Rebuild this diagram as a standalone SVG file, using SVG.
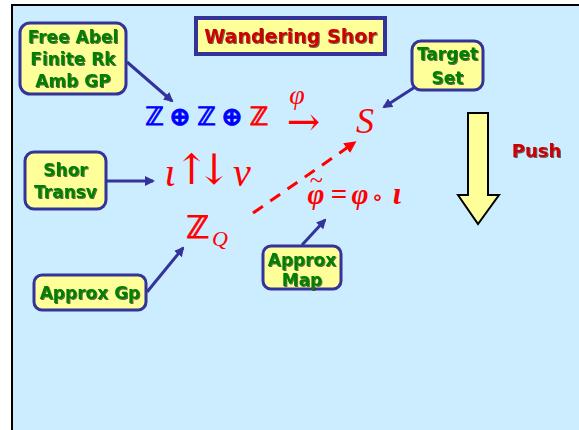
<svg xmlns="http://www.w3.org/2000/svg" width="579" height="430" viewBox="0 0 579 430">
<defs>
<style>
.box{fill:#FFFF99;stroke:#333399;stroke-width:3}
.lbl{font-family:"DejaVu Sans",sans-serif;font-weight:bold;font-size:17px;fill:#008000;text-anchor:middle;filter:url(#sh)}
.conn{stroke:#333399;stroke-width:3;fill:none;marker-end:url(#ah)}
.m{font-family:"DejaVu Sans",sans-serif;text-anchor:middle;stroke-width:0.9}
.it{font-family:"Liberation Serif",serif;font-style:italic;text-anchor:middle;fill:#FF0000}
.ar{font-family:"Liberation Serif",serif;text-anchor:middle;fill:#FF0000}
.ds{font-family:"DejaVu Serif",serif;text-anchor:middle;fill:#FF0000}
</style>
<filter id="sh" x="-10%" y="-10%" width="130%" height="140%">
<feDropShadow dx="1" dy="1" stdDeviation="0.4" flood-color="#222" flood-opacity="0.7"/>
</filter>
<marker id="ah" markerWidth="10" markerHeight="10" refX="8" refY="5" orient="auto" markerUnits="userSpaceOnUse" viewBox="0 0 10 10">
<path d="M0,0 L10,5 L0,10 Z" fill="#333399"/>
</marker>
<marker id="rh" markerWidth="12" markerHeight="12" refX="9" refY="6" orient="auto" markerUnits="userSpaceOnUse" viewBox="0 0 12 12">
<path d="M0,0 L12,6 L0,12 Z" fill="#FF0000"/>
</marker>
</defs>
<rect x="0" y="0" width="579" height="430" fill="#FFFFFF"/>
<rect x="12" y="5" width="570" height="430" fill="#CCECFF" stroke="#000" stroke-width="2"/>

<g id="title">
<rect x="196" y="18" width="189" height="36" fill="#FFFF99" stroke="#333399" stroke-width="4"/>
<text x="290.5" y="43" font-family="DejaVu Sans,sans-serif" font-weight="bold" font-size="19" fill="#CC0000" text-anchor="middle" filter="url(#sh)">Wandering Shor</text>
</g>

<g id="connectors">
<line class="conn" x1="127" y1="62" x2="172" y2="101"/>
<line class="conn" x1="415" y1="87" x2="384" y2="107"/>
<line class="conn" x1="107" y1="181" x2="153" y2="181"/>
<line class="conn" x1="147" y1="292" x2="183" y2="248"/>
<line class="conn" x1="302" y1="245" x2="325" y2="220"/>
<line x1="253" y1="213" x2="354" y2="143" stroke="#FF0000" stroke-width="3" stroke-dasharray="12,9" marker-end="url(#rh)"/>
</g>

<g id="freeabel">
<rect class="box" x="20" y="23" width="106" height="71" rx="10"/>
<text class="lbl" x="73" y="43">Free Abel</text>
<text class="lbl" x="73" y="65">Finite Rk</text>
<text class="lbl" x="73" y="87">Amb GP</text>
</g>

<g id="target">
<rect class="box" x="412" y="41" width="71" height="49" rx="9"/>
<text class="lbl" x="447.5" y="60">Target</text>
<text class="lbl" x="447.5" y="84">Set</text>
</g>

<g id="shor">
<rect class="box" x="25" y="152" width="81" height="57" rx="9"/>
<text class="lbl" x="65.5" y="176">Shor</text>
<text class="lbl" x="65.5" y="198">Transv</text>
</g>

<g id="approxgp">
<rect class="box" x="34" y="275" width="112" height="35" rx="8"/>
<text class="lbl" x="90" y="299" font-size="16">Approx Gp</text>
</g>

<g id="approxmap">
<rect class="box" x="263" y="246" width="78" height="43" rx="8"/>
<text class="lbl" x="302" y="266">Approx</text>
<text class="lbl" x="302" y="286">Map</text>
</g>

<g id="zsum" class="m" font-size="25">
<text x="154.5" y="125" fill="#0000FF" stroke="#0000FF">ℤ</text>
<text x="180" y="125" fill="#0000FF" stroke="#0000FF" font-weight="bold">⊕</text>
<text x="206.5" y="125" fill="#0000FF" stroke="#0000FF">ℤ</text>
<text x="232" y="125" fill="#0000FF" stroke="#0000FF" font-weight="bold">⊕</text>
<text x="259" y="125" fill="#FF0000" stroke="#FF0000">ℤ</text>
</g>

<g id="phiarrow">
<text class="it" x="297" y="104" font-size="28">φ</text>
<text class="ds" x="303.5" y="135" font-size="40">→</text>
</g>

<g id="S">
<text class="it" x="365" y="133" font-size="36">S</text>
</g>

<g id="iotanu">
<text class="it" x="170" y="186" font-size="40">ι</text>
<text class="ds" x="191.5" y="184" font-size="42">↑</text>
<text class="ds" x="214" y="184" font-size="42">↓</text>
<text class="it" x="242" y="186" font-size="40">ν</text>
</g>

<g id="zq">
<text class="m" x="197.5" y="238" font-size="31" fill="#FF0000" stroke="#FF0000">ℤ</text>
<text class="it" x="220" y="246" font-size="22">Q</text>
</g>

<g id="phitilde" font-weight="bold">
<text class="it" x="316" y="188" font-size="24" font-weight="normal">~</text>
<text class="it" x="316" y="204" font-size="29">φ</text>
<text class="ar" x="339" y="204" font-size="29">=</text>
<text class="it" x="360" y="204" font-size="29">φ</text>
<text x="377.5" y="204" font-family="DejaVu Sans,sans-serif" font-size="20" fill="#FF0000" text-anchor="middle">∘</text>
<text class="it" x="397" y="204" font-size="31">ι</text>
</g>

<g id="push">
<path d="M468,113 L488,113 L488,195 L499,195 L478,224 L458,195 L468,195 Z" fill="#FFFF99" stroke="#000" stroke-width="2" stroke-linejoin="miter"/>
<text x="536.5" y="157" font-family="DejaVu Sans,sans-serif" font-weight="bold" font-size="18" fill="#CC0000" text-anchor="middle" filter="url(#sh)">Push</text>
</g>
</svg>
